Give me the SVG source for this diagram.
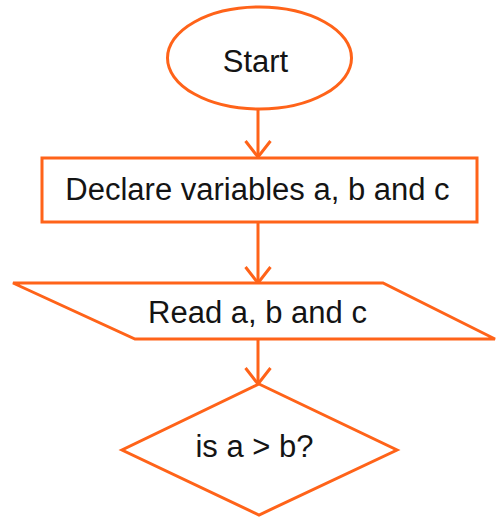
<svg xmlns="http://www.w3.org/2000/svg" width="497" height="518" viewBox="0 0 497 518">
<style>
.shape{fill:#fff;stroke:#FF6319;stroke-width:3}
.edge{fill:none;stroke:#FF6319;stroke-width:3}
.lbl{font-family:"Liberation Sans",Arial,sans-serif;font-size:31px;fill:#141414;text-anchor:middle}
</style>
<rect width="497" height="518" fill="#fff"/>
<g id="connectors">
<line class="edge" x1="258" y1="109" x2="258" y2="157"/>
<line class="edge" x1="258" y1="222" x2="258" y2="283"/>
<line class="edge" x1="258" y1="339" x2="258" y2="384"/>
<path class="edge" d="M245.5,141 L258,157 L270.5,141"/>
<path class="edge" d="M245.5,267 L258,283 L270.5,267"/>
<path class="edge" d="M245.5,368 L258,384 L270.5,368"/>
</g>
<g id="start">
<ellipse class="shape" cx="259.5" cy="58" rx="92" ry="51"/>
<text class="lbl" x="255.5" y="72">Start</text>
</g>
<g id="declare">
<rect class="shape" x="42" y="158" width="435" height="64"/>
<text class="lbl" x="257.5" y="200">Declare variables a, b and c</text>
</g>
<g id="read">
<polygon class="shape" points="13,283 383,283 495,339 135,339"/>
<text class="lbl" x="257.5" y="323">Read a, b and c</text>
</g>
<g id="decision">
<polygon class="shape" points="259,384 397,450 259,515 122,450"/>
<text class="lbl" x="254.5" y="457">is a &gt; b?</text>
</g>
</svg>
